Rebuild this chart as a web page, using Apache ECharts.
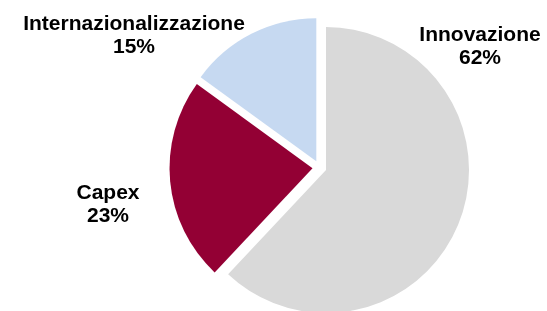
<!DOCTYPE html>
<html>
<head>
<meta charset="utf-8">
<script src="https://cdn.jsdelivr.net/npm/echarts@6/dist/echarts.min.js"></script>
<style>
  html, body { margin: 0; padding: 0; background: #ffffff; }
  #chart { width: 547px; height: 311px; }
</style>
</head>
<body>
<div id="chart"></div>
<script>
  // dati (in senso orario da ore 12)
  var categories = ['Innovazione', 'Capex', 'Internazionalizzazione'];
  var values = [62, 23, 15];
  var colors = ['#D9D9D9', '#930034', '#C6D9F1'];

  // posizione delle etichette (centro del blocco di testo)
  var labelPos = [[480, 47], [108, 205], [134, 36]];

  var myChart = echarts.init(document.getElementById('chart'));

  // con le fette "esplose" il labelLayout viene ignorato, quindi uso graphic
  var labels = categories.map(function (name, i) {
    return {
      type: 'text',
      x: labelPos[i][0],
      y: labelPos[i][1],
      silent: true,
      style: {
        text: name + '\n' + values[i] + '%',
        fill: '#000000',
        fontFamily: 'Arial, "Liberation Sans", sans-serif',
        fontWeight: 'bold',
        fontSize: 21,
        lineHeight: 23,
        align: 'center',
        verticalAlign: 'middle'
      }
    };
  });

  myChart.setOption({
    animation: false,
    backgroundColor: '#ffffff',
    graphic: labels,
    series: [
      {
        type: 'pie',
        center: [319.5, 167.5],
        radius: 143,
        startAngle: 90,
        clockwise: true,
        selectedMode: 'multiple',
        selectedOffset: 7,
        silent: true,
        data: categories.map(function (name, i) {
          return {
            name: name,
            value: values[i],
            selected: true,
            itemStyle: { color: colors[i] }
          };
        }),
        label: { show: false },
        labelLine: { show: false }
      }
    ]
  });
</script>
</body>
</html>
